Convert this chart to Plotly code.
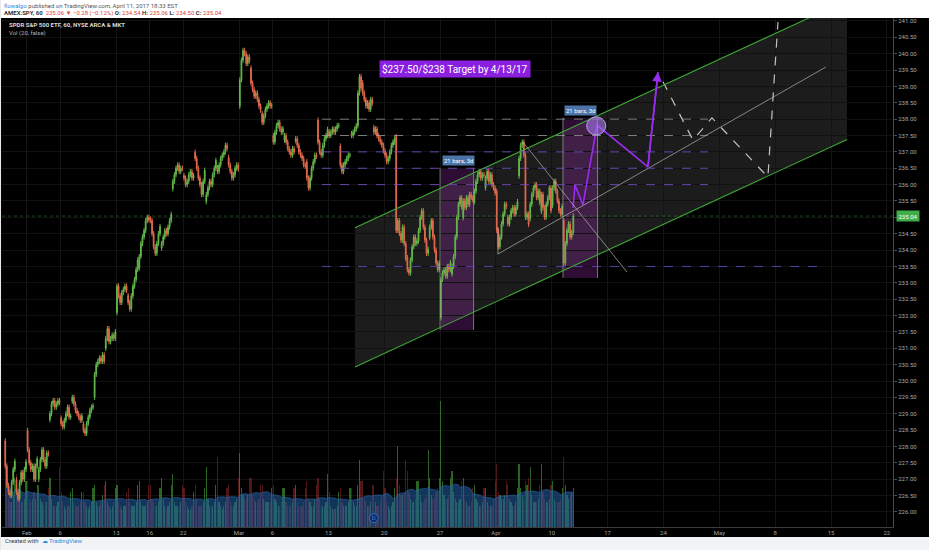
import plotly.graph_objects as go
import pandas as pd

# ---------------- DATA ----------------
# trading-day index 0 = Jan 30 2017 ... 50 = Apr 11 2017; 7 hourly bars per day
DAY_OPEN = [228.17, 226.98, 228.49, 227.0, 228.82, 228.87, 229.38, 228.69, 229.5, 231.0,
            232.09, 232.61, 233.45, 234.95, 234.06, 235.87, 236.28, 236.99, 235.48, 236.52,
            236.83, 238.39, 239.56, 238.17, 237.5, 237.36, 237.34, 236.7, 237.97, 237.62,
            237.18, 237.56, 239.11, 237.75, 237.03, 237.47, 233.77, 234.28, 234.38, 231.93,
            233.27, 234.99, 235.47, 235.9, 235.8, 235.0, 236.26, 234.96, 235.18, 235.36,
            234.9]

HOURLY_CLOSE = [
    [227.4, 226.8, 226.6, 226.5, 226.9, 227.3, 227.55],
    [226.6, 226.4, 226.9, 227.2, 227.0, 227.3, 227.53],
    [227.9, 227.5, 227.3, 227.4, 227.0, 227.4, 227.62],
    [227.3, 227.6, 227.9, 227.6, 227.4, 227.8, 227.77],
    [229.0, 229.3, 229.4, 229.2, 229.3, 229.4, 229.34],
    [228.7, 228.6, 228.8, 229.0, 229.2, 228.9, 228.93],
    [229.5, 229.3, 229.1, 229.0, 228.9, 228.8, 228.94],
    [228.5, 228.4, 228.7, 228.9, 229.1, 229.2, 229.24],
    [230.2, 230.5, 230.6, 230.7, 230.6, 230.8, 230.6],
    [231.3, 231.6, 231.2, 231.3, 231.4, 231.3, 231.51],
    [232.9, 232.6, 232.4, 232.7, 232.8, 232.9, 232.77],
    [232.4, 232.2, 232.6, 232.9, 233.1, 233.4, 233.7],
    [233.8, 234.2, 234.4, 234.6, 234.9, 235.0, 234.92],
    [234.9, 234.5, 234.1, 233.9, 234.2, 234.5, 234.72],
    [234.2, 234.4, 234.6, 234.5, 234.7, 234.9, 235.09],
    [236.1, 236.3, 236.5, 236.6, 236.4, 236.5, 236.49],
    [236.2, 236.0, 236.1, 236.3, 236.4, 236.2, 236.28],
    [236.8, 236.5, 236.2, 236.0, 235.7, 236.1, 236.44],
    [235.7, 235.9, 236.1, 236.0, 236.3, 236.5, 236.74],
    [236.4, 236.6, 236.8, 236.9, 237.0, 237.2, 237.11],
    [236.6, 236.4, 236.2, 236.3, 236.5, 236.6, 236.47],
    [239.2, 239.8, 240.1, 240.0, 239.7, 239.9, 239.78],
    [239.1, 238.9, 238.7, 238.8, 238.6, 238.4, 238.27],
    [237.9, 238.1, 238.3, 238.4, 238.5, 238.4, 238.42],
    [237.3, 237.6, 237.8, 237.9, 237.7, 237.6, 237.71],
    [237.5, 237.3, 237.1, 237.0, 236.9, 237.1, 237.0],
    [237.4, 237.2, 237.0, 236.9, 236.8, 236.6, 236.56],
    [236.2, 235.9, 236.2, 236.5, 236.7, 236.9, 236.86],
    [237.3, 237.0, 236.9, 237.2, 237.4, 237.5, 237.69],
    [237.5, 237.6, 237.7, 237.6, 237.7, 237.8, 237.81],
    [236.6, 236.4, 236.6, 236.7, 236.8, 236.9, 236.9],
    [237.5, 237.6, 237.7, 237.8, 238.8, 239.3, 238.95],
    [238.8, 238.6, 238.4, 238.5, 238.3, 238.6, 238.48],
    [237.6, 237.7, 237.5, 237.4, 237.3, 237.2, 237.03],
    [236.9, 236.7, 236.8, 237.0, 237.2, 237.3, 237.4],
    [234.6, 234.9, 234.5, 234.3, 234.7, 234.2, 233.73],
    [233.4, 233.3, 233.7, 234.1, 234.4, 234.2, 234.28],
    [234.6, 235.0, 235.2, 234.7, 234.3, 233.9, 234.03],
    [234.7, 234.9, 234.4, 234.0, 233.6, 233.4, 233.6],
    [233.1, 233.3, 233.4, 233.2, 233.5, 233.4, 233.62],
    [233.5, 233.8, 234.4, 235.0, 235.4, 235.6, 235.32],
    [235.5, 235.3, 235.6, 235.4, 235.7, 235.6, 235.54],
    [235.8, 236.1, 236.3, 236.4, 236.2, 236.3, 236.29],
    [236.2, 236.4, 236.1, 236.3, 236.0, 235.9, 235.74],
    [234.6, 234.1, 234.4, 234.8, 235.1, 235.4, 235.33],
    [234.8, 235.0, 235.2, 235.3, 235.1, 235.3, 235.48],
    [236.8, 237.2, 237.3, 236.9, 235.0, 235.1, 234.78],
    [235.4, 235.7, 235.9, 236.0, 235.6, 235.8, 235.44],
    [235.7, 235.3, 235.0, 235.4, 235.6, 235.9, 235.2],
    [235.9, 236.1, 235.8, 235.5, 235.2, 235.1, 235.34],
    [233.6, 234.2, 234.6, 234.8, 234.4, 234.54, 235.04],
]

# hourly volume, millions of shares
HOURLY_VOLUME = [
    [18, 10, 8, 7, 7, 9, 14], [15, 9, 7, 7, 7, 8, 13], [13, 8, 7, 8, 10, 8, 12],
    [12, 8, 7, 6, 7, 7, 11], [14, 8, 6, 6, 6, 7, 17], [10, 7, 6, 5, 6, 6, 10],
    [11, 7, 6, 6, 6, 7, 10], [10, 7, 6, 5, 6, 7, 11], [12, 7, 6, 6, 7, 9, 12],
    [13, 7, 6, 5, 6, 7, 11], [12, 7, 6, 5, 6, 6, 10], [11, 7, 6, 6, 6, 7, 12],
    [13, 7, 6, 6, 6, 7, 12], [12, 8, 7, 6, 6, 7, 11], [14, 8, 6, 5, 6, 7, 12],
    [15, 7, 6, 6, 6, 7, 12], [11, 7, 6, 5, 5, 6, 10], [12, 8, 6, 6, 6, 7, 11],
    [17, 8, 6, 6, 6, 7, 12], [20, 7, 6, 5, 6, 7, 11], [12, 7, 6, 6, 7, 8, 14],
    [21, 11, 9, 8, 8, 9, 14], [14, 9, 8, 7, 7, 8, 12], [12, 8, 7, 7, 7, 7, 11],
    [12, 8, 7, 6, 6, 7, 11], [11, 7, 6, 6, 6, 7, 11], [12, 7, 6, 6, 6, 7, 11],
    [13, 8, 7, 6, 6, 8, 12], [14, 8, 6, 6, 6, 7, 15], [10, 6, 5, 5, 5, 6, 10],
    [11, 7, 6, 6, 6, 7, 11], [11, 7, 6, 6, 12, 19, 13], [13, 8, 7, 6, 6, 7, 12],
    [12, 7, 6, 6, 7, 9, 16], [11, 7, 6, 5, 6, 7, 11], [14, 23, 12, 9, 9, 10, 19],
    [16, 10, 8, 7, 7, 8, 13], [13, 9, 7, 7, 8, 9, 22], [14, 9, 8, 8, 10, 11, 14],
    [36, 13, 9, 8, 8, 9, 14], [16, 10, 8, 7, 7, 8, 13], [14, 8, 7, 6, 6, 7, 11],
    [12, 8, 7, 6, 6, 7, 11], [11, 7, 6, 6, 6, 8, 13], [18, 10, 9, 8, 8, 9, 13],
    [12, 8, 7, 6, 6, 7, 11], [18, 11, 9, 8, 13, 12, 14], [17, 9, 7, 7, 7, 8, 12],
    [18, 10, 8, 7, 7, 8, 12], [13, 8, 7, 7, 7, 8, 11], [20, 12, 9, 8, 9, 10, 11],
]

TICK_DAYS = [2, 5, 10, 13, 16, 21, 24, 29, 34, 39, 44, 49, 54, 59, 64, 69, 74, 79]
TICK_TEXT = ["Feb", "6", "13", "16", "22", "Mar", "6", "13", "20", "27",
             "Apr", "10", "17", "24", "May", "8", "15", "22"]

LAST_PRICE = 235.04
TARGET_TEXT = "$237.50/$238 Target by 4/13/17"

# drawings (trading-day index, price)
CHANNEL_X = [31.38, 75.43]
CHANNEL_LOW = [230.43, 237.38]
CHANNEL_HIGH = [234.68, 241.63]
WEDGE_UP = [(44.18, 233.88), (73.53, 239.59)]
WEDGE_DOWN = [(46.42, 237.30), (55.73, 233.33)]
RANGE_A = (39.0, 42.0, 231.56, 236.51)
RANGE_B = (50.0, 53.1, 233.15, 238.04)
LEVELS_GRAY = [238.0, 237.5]
LEVELS_PURPLE = [237.0, 236.5, 236.0]
LEVEL_LOW = 233.5
PURPLE_PATH_X = [50.90, 51.08, 51.79, 53.05, 57.61, 58.51]
PURPLE_PATH_Y = [235.29, 235.99, 235.38, 237.82, 236.54, 239.44]
DASH_PATH_X = [58.96, 61.64, 63.34, 68.35, 69.25]
DASH_PATH_Y = [239.14, 237.36, 238.04, 236.23, 240.97]

# ---------------- build bars ----------------
WICK = 0.08
BPD = 7
xs, o, h, l, c, v = [], [], [], [], [], []
prev = None
for d, (dop, closes, vols) in enumerate(zip(DAY_OPEN, HOURLY_CLOSE, HOURLY_VOLUME)):
    for k in range(BPD):
        op = dop if k == 0 else prev
        cl = closes[k]
        xs.append(d + (k + 0.5) / BPD)
        o.append(op)
        c.append(cl)
        h.append(max(op, cl) + WICK)
        l.append(min(op, cl) - WICK)
        v.append(vols[k])
        prev = cl

ma = pd.Series(v).rolling(20, min_periods=1).mean()
vcol = ["rgba(70,165,60,0.6)" if cc >= oo else "rgba(150,40,40,0.55)" for oo, cc in zip(o, c)]

INC = "#63b84a"
DEC = "#e2694b"
FONT = "Roboto"

fig = go.Figure()
fig.add_trace(go.Bar(x=xs, y=v, width=0.75 / BPD, marker=dict(color=vcol, line=dict(width=0)),
                     yaxis="y", hoverinfo="skip"))
fig.add_trace(go.Scatter(x=xs, y=ma, mode="lines", fill="tozeroy",
                         line=dict(color="rgba(45,110,180,0.9)", width=0.6),
                         fillcolor="rgba(35,95,165,0.55)", yaxis="y", hoverinfo="skip"))
fig.add_trace(go.Candlestick(x=xs, open=o, high=h, low=l, close=c, yaxis="y2",
                             whiskerwidth=0,
                             increasing=dict(line=dict(color=INC, width=1), fillcolor=INC),
                             decreasing=dict(line=dict(color=DEC, width=1), fillcolor=DEC)))

# projection paths
fig.add_trace(go.Scatter(x=PURPLE_PATH_X, y=PURPLE_PATH_Y, mode="lines", yaxis="y2",
                         line=dict(color="#9a2cf0", width=1.6), hoverinfo="skip"))
fig.add_trace(go.Scatter(x=DASH_PATH_X, y=DASH_PATH_Y, mode="lines", yaxis="y2",
                         line=dict(color="rgba(225,225,225,0.85)", width=1.2, dash="dash"),
                         hoverinfo="skip"))
# dividend marker
fig.add_trace(go.Scatter(x=[33.07], y=[225.81], mode="markers+text", yaxis="y2", text=["D"],
                         textposition="middle center", textfont=dict(size=6, color="#3d7fe0", family=FONT),
                         marker=dict(size=9, color="rgba(20,40,90,0.9)", line=dict(color="#2f6fd6", width=1)),
                         hoverinfo="skip"))

shapes = []
shapes.append(dict(type="path", xref="x", yref="y2", layer="below",
                   path=f"M {CHANNEL_X[0]} {CHANNEL_LOW[0]} L {CHANNEL_X[1]} {CHANNEL_LOW[1]} "
                        f"L {CHANNEL_X[1]} {CHANNEL_HIGH[1]} L {CHANNEL_X[0]} {CHANNEL_HIGH[0]} Z",
                   fillcolor="rgba(255,255,255,0.11)", line=dict(width=0)))
for (x0, x1, y0, y1) in (RANGE_A, RANGE_B):
    shapes.append(dict(type="rect", xref="x", yref="y2", x0=x0, x1=x1, y0=y0, y1=y1, layer="below",
                       fillcolor="rgba(140,40,160,0.32)", line=dict(width=0)))
    for xx in (x0, x1):
        shapes.append(dict(type="line", xref="x", yref="y2", x0=xx, x1=xx, y0=y0, y1=y1,
                           line=dict(color="rgba(160,160,160,0.7)", width=1)))
for xx, yy in ((CHANNEL_X, CHANNEL_LOW), (CHANNEL_X, CHANNEL_HIGH)):
    shapes.append(dict(type="line", xref="x", yref="y2", x0=xx[0], x1=xx[1], y0=yy[0], y1=yy[1],
                       line=dict(color="#3fa836", width=1.1)))
for seg in (WEDGE_UP, WEDGE_DOWN):
    shapes.append(dict(type="line", xref="x", yref="y2", x0=seg[0][0], x1=seg[1][0],
                       y0=seg[0][1], y1=seg[1][1], line=dict(color="rgba(190,190,190,0.65)", width=1)))
shapes.append(dict(type="line", xref="x", yref="y2", x0=WEDGE_UP[0][0], x1=WEDGE_UP[0][0],
                   y0=WEDGE_UP[0][1], y1=234.70, line=dict(color="rgba(190,190,190,0.65)", width=1)))
for lv in LEVELS_GRAY:
    shapes.append(dict(type="line", xref="x", yref="y2", x0=28.43, x1=62.98, y0=lv, y1=lv,
                       line=dict(color="rgba(170,170,170,0.7)", width=1, dash="dash")))
for lv in LEVELS_PURPLE:
    shapes.append(dict(type="line", xref="x", yref="y2", x0=28.43, x1=62.98, y0=lv, y1=lv,
                       line=dict(color="rgba(120,80,200,0.85)", width=1, dash="dash")))
shapes.append(dict(type="line", xref="x", yref="y2", x0=28.43, x1=73.47, y0=LEVEL_LOW, y1=LEVEL_LOW,
                   line=dict(color="rgba(100,70,190,0.85)", width=1, dash="dash")))
shapes.append(dict(type="line", xref="paper", yref="y2", x0=0, x1=1, y0=LAST_PRICE, y1=LAST_PRICE,
                   line=dict(color="rgba(70,160,70,0.45)", width=1, dash="dot")))
shapes.append(dict(type="circle", xref="x", yref="y2", x0=52.12, x1=53.83, y0=237.52, y1=238.07,
                   fillcolor="rgba(165,120,235,0.6)", line=dict(color="rgba(200,160,255,0.9)", width=1)))
# page chrome: header, footer, side strips
shapes.append(dict(type="rect", xref="paper", yref="paper", x0=-0.01, x1=1.06, y0=1.0, y1=1.06,
                   fillcolor="#ffffff", line=dict(width=0), layer="above"))
shapes.append(dict(type="rect", xref="paper", yref="paper", x0=-0.01, x1=1.06, y0=-0.0196, y1=-0.06,
                   fillcolor="#f2f3f5", line=dict(width=0), layer="above"))
shapes.append(dict(type="rect", xref="paper", yref="paper", x0=-0.01, x1=-0.0011, y0=-0.06, y1=1.06,
                   fillcolor="#e8e8e8", line=dict(width=0), layer="above"))
shapes.append(dict(type="rect", xref="paper", yref="paper", x0=1.0404, x1=1.06, y0=-0.06, y1=1.06,
                   fillcolor="#ffffff", line=dict(width=0), layer="above"))

ann = []
ann.append(dict(x=40.33, y=239.53, xref="x", yref="y2", text=TARGET_TEXT, showarrow=False,
                font=dict(size=10, color="white", family=FONT), bgcolor="#8b1fe0", borderpad=2))
for (bx, by) in ((40.69, 236.75), (51.61, 238.25)):
    ann.append(dict(x=bx, y=by, xref="x", yref="y2", text="21 bars, 3d", showarrow=False,
                    font=dict(size=6, color="white", family=FONT), bgcolor="#4d74a8", borderpad=1))
ann.append(dict(x=PURPLE_PATH_X[-1], y=PURPLE_PATH_Y[-1], ax=PURPLE_PATH_X[-2], ay=PURPLE_PATH_Y[-2],
                xref="x", yref="y2", axref="x", ayref="y2", text="", showarrow=True,
                arrowhead=2, arrowsize=1.2, arrowwidth=1.6, arrowcolor="#9a2cf0"))
ann.append(dict(x=1.0, y=LAST_PRICE, xref="paper", yref="y2", xanchor="left", text="235.04",
                showarrow=False, font=dict(size=6, color="white", family=FONT),
                bgcolor="#3fae49", borderpad=1.5, xshift=3))
ann.append(dict(x=0, y=1.0255, xref="paper", yref="paper", xanchor="left", yanchor="middle",
                showarrow=False, font=dict(size=6, color="#555555", family=FONT),
                text="<span style='color:#2a8be0'>flowalgo</span> published on TradingView.com, April 11, 2017 18:33 EST"))
red = "#e0413a"
ann.append(dict(x=0, y=1.0105, xref="paper", yref="paper", xanchor="left", yanchor="middle",
                showarrow=False, font=dict(size=6, color="#333333", family=FONT),
                text=(f"<b>AMEX:SPY, 60</b>  <span style='color:{red}'>235.06 ▼ −0.28 (−0.12%)</span> "
                      f"<b>O:</b> <span style='color:{red}'>234.54</span> <b>H:</b> <span style='color:{red}'>235.06</span> "
                      f"<b>L:</b> <span style='color:{red}'>234.50</span> <b>C:</b> <span style='color:{red}'>235.04</span>")))
ann.append(dict(x=0.0056, y=0.9863, xref="paper", yref="paper", xanchor="left", yanchor="middle",
                showarrow=False, font=dict(size=6, color="#d8d8d8", family=FONT),
                text="<b>SPDR S&amp;P 500 ETF, 60, NYSE ARCA &amp; MKT</b>"))
ann.append(dict(x=0.0056, y=0.9705, xref="paper", yref="paper", xanchor="left", yanchor="middle",
                showarrow=False, font=dict(size=6, color="#b0b0b0", family=FONT),
                text="Vol (20, false)"))
ann.append(dict(x=0.001, y=-0.0275, xref="paper", yref="paper", xanchor="left", yanchor="middle",
                showarrow=False, font=dict(size=6, color="#444444", family=FONT),
                text="Created with  <span style='color:#2a8be0'>☁ TradingView</span>"))

fig.update_layout(
    width=932, height=550,
    margin=dict(l=2, r=39, t=18, b=23),
    paper_bgcolor="#000000", plot_bgcolor="#000000",
    showlegend=False, bargap=0,
    font=dict(family=FONT, color="#a0a0a0", size=6),
    shapes=shapes, annotations=ann,
    xaxis=dict(range=[-0.22, 79.55], tickmode="array", tickvals=TICK_DAYS, ticktext=TICK_TEXT,
               tickfont=dict(size=6, color="#a0a0a0", family=FONT), showgrid=True,
               gridcolor="#141414", gridwidth=1, zeroline=False, showline=True,
               linecolor="#3c3c3c", ticks="", rangeslider=dict(visible=False), fixedrange=True),
    yaxis=dict(range=[0, 145], visible=False, fixedrange=True),
    yaxis2=dict(overlaying="y", side="right", range=[225.54, 241.09], tick0=226, dtick=0.5,
                tickformat=".2f", tickfont=dict(size=6, color="#a8a8a8", family=FONT),
                ticks="outside", ticklen=3, tickcolor="#4a4a4a", showgrid=True,
                gridcolor="#111111", zeroline=False, showline=True, linecolor="#4a4a4a",
                fixedrange=True),
)

fig.write_html("out.html", config={"displayModeBar": False},
               post_script="document.body.style.margin='0px';document.body.style.overflow='hidden';")
